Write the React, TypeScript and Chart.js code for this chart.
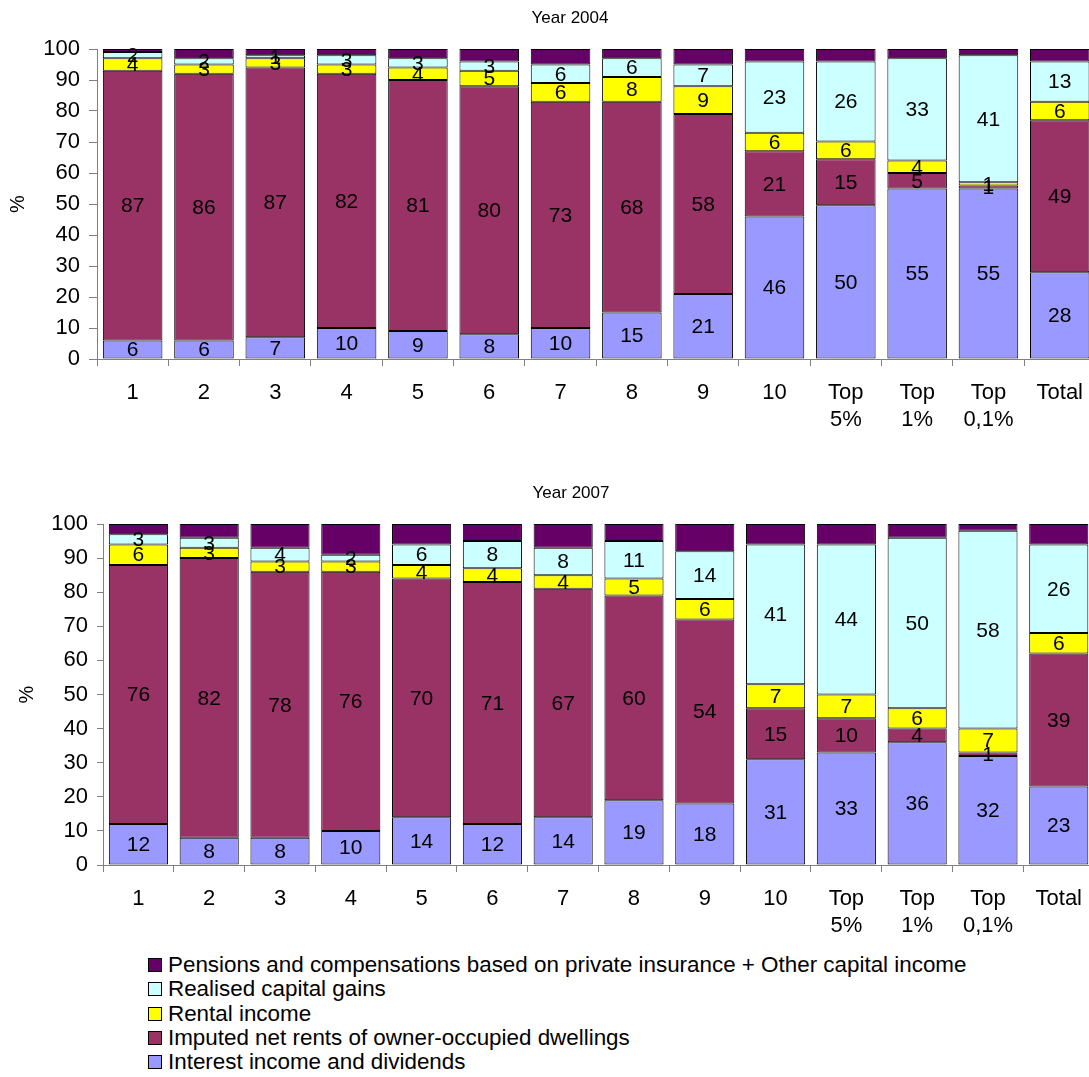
import React, { useEffect, useRef } from "react";
import { Chart, registerables } from "chart.js";

Chart.register(...registerables);

const FONT = '"Liberation Sans", Arial, Helvetica, sans-serif';

const categories: (string | string[])[] = [
  "1", "2", "3", "4", "5", "6", "7", "8", "9", "10",
  ["Top", "5%"], ["Top", "1%"], ["Top", "0,1%"], "Total",
];

const seriesNames = [
  "Interest income and dividends",
  "Imputed net rents of owner-occupied dwellings",
  "Rental income",
  "Realised capital gains",
  "Pensions and compensations based on private insurance + Other capital income",
];
const seriesColors = ["#9999FF", "#993366", "#FFFF00", "#CCFFFF", "#660066"];

// Year 2004
const interest2004 = [6, 6, 7, 10, 9, 8, 10, 15, 21, 46, 49.6, 55, 55, 28];
const imputed2004 = [87, 86, 87, 82, 81, 80, 73, 68, 58, 21, 14.8, 5, 1, 49];
const rental2004 = [4, 3, 3, 3, 4, 5, 6, 8, 9, 6, 5.8, 4, 1, 6];
const gains2004 = [2, 2, 1, 3, 3, 3, 6, 6, 7, 23, 25.8, 33, 41, 13];
const pensions2004 = [1, 3, 2, 2, 3, 4, 5, 3, 5, 4, 4, 3, 2, 4];

// Year 2007
const interest2007 = [12, 8, 8, 10, 14, 12, 14, 19, 18, 31, 33, 36, 32, 23];
const imputed2007 = [76, 82, 78, 76, 70, 71, 67, 60, 54, 15, 10, 4, 1, 39];
const rental2007 = [6, 3, 3, 3, 4, 4, 4, 5, 6, 7, 7, 6, 7, 6];
const gains2007 = [3, 3, 4, 2, 6, 8, 8, 11, 14, 41, 44, 50, 58, 26];
const pensions2007 = [3, 4, 7, 9, 6, 5, 7, 5, 8, 6, 6, 4, 2, 6];

const yTicks = [0, 10, 20, 30, 40, 50, 60, 70, 80, 90, 100];

const legendOrder = [4, 3, 2, 1, 0];

const segLabels = {
  id: "segLabels",
  afterDatasetsDraw(chart: any) {
    const ctx = chart.ctx;
    ctx.save();
    ctx.font = `21px ${FONT}`;
    ctx.fillStyle = "#000";
    ctx.textAlign = "center";
    ctx.textBaseline = "middle";
    chart.data.datasets.forEach((ds: any, i: number) => {
      if (!ds.showLabels) return;
      const meta = chart.getDatasetMeta(i);
      meta.data.forEach((el: any, j: number) => {
        const v = ds.data[j];
        const p = el.getProps(["x", "y", "base"], true);
        ctx.fillText(String(Math.round(v)), p.x, (p.y + p.base) / 2 + 1);
      });
    });
    ctx.restore();
  },
};

type Cfg = {
  title: string;
  data: number[][];
  width: number;
  height: number;
  padLeft: number;
  axisWidth: number;
  titlePadTop: number;
  titlePadBottom: number;
  pctPad: number;
  yTickLen: number;
};

function BarChart({ cfg }: { cfg: Cfg }) {
  const ref = useRef<HTMLCanvasElement>(null);
  useEffect(() => {
    if (!ref.current) return;
    const chart = new Chart(ref.current, {
      type: "bar",
      data: {
        labels: categories as any,
        datasets: cfg.data.map((d, i) => ({
          label: seriesNames[i],
          data: d,
          backgroundColor: seriesColors[i],
          borderColor: "#000",
          borderWidth: 1,
          borderSkipped: false,
          categoryPercentage: 1,
          barPercentage: 0.835,
          showLabels: i < 4,
        })) as any,
      },
      options: {
        responsive: false,
        animation: false,
        events: [],
        layout: { padding: { left: cfg.padLeft, right: 0, top: 0, bottom: 0 } },
        plugins: {
          legend: { display: false },
          tooltip: { enabled: false },
          title: {
            display: true,
            text: cfg.title,
            color: "#000",
            font: { family: FONT, size: 17, weight: "normal", lineHeight: 1.2 },
            padding: { top: cfg.titlePadTop, bottom: cfg.titlePadBottom },
          },
        },
        scales: {
          x: {
            stacked: true,
            grid: {
              offset: true,
              drawOnChartArea: false,
              tickLength: 7,
              color: "#808080",
            },
            border: { color: "#808080", width: 1 },
            ticks: {
              color: "#000",
              font: { family: FONT, size: 22, lineHeight: 1.2 },
              padding: 14,
              maxRotation: 0,
              autoSkip: false,
            },
            afterFit: (s: any) => {
              s.height = 81;
            },
          },
          y: {
            stacked: true,
            min: 0,
            max: 100,
            afterBuildTicks: (s: any) => {
              s.ticks = yTicks.map((v) => ({ value: v }));
            },
            grid: {
              drawOnChartArea: false,
              tickLength: cfg.yTickLen,
              color: "#808080",
            },
            border: { color: "#808080", width: 1 },
            ticks: {
              color: "#000",
              font: { family: FONT, size: 22 },
              padding: 9,
            },
            title: {
              display: true,
              text: "%",
              color: "#000",
              font: { family: FONT, size: 20, lineHeight: 1.2 },
              padding: { top: cfg.pctPad, bottom: 0 },
            },
            afterFit: (s: any) => {
              s.width = cfg.axisWidth;
            },
          },
        },
      } as any,
      plugins: [segLabels],
    });
    return () => chart.destroy();
  }, [cfg]);
  return (
    <canvas
      ref={ref}
      width={cfg.width}
      height={cfg.height}
      style={{ width: cfg.width, height: cfg.height, display: "block" }}
    />
  );
}

const cfg2004: Cfg = {
  title: "Year 2004",
  data: [interest2004, imputed2004, rental2004, gains2004, pensions2004],
  width: 1097,
  height: 440,
  padLeft: 43,
  axisWidth: 54,
  titlePadTop: 8,
  titlePadBottom: 20.6,
  pctPad: -37,
  yTickLen: 8,
};

const cfg2007: Cfg = {
  title: "Year 2007",
  data: [interest2007, imputed2007, rental2007, gains2007, pensions2007],
  width: 1096,
  height: 476,
  padLeft: 46,
  axisWidth: 57,
  titlePadTop: 13.6,
  titlePadBottom: 20,
  pctPad: -31,
  yTickLen: 6,
};

export default function App() {
  return (
    <div
      style={{
        position: "absolute",
        left: 0,
        top: 0,
        width: 1089,
        height: 1077,
        overflow: "hidden",
        background: "#fff",
      }}
    >
      <div style={{ position: "absolute", left: 0, top: 0 }}>
        <BarChart cfg={cfg2004} />
      </div>
      <div style={{ position: "absolute", left: 0, top: 470 }}>
        <BarChart cfg={cfg2007} />
      </div>
      <div
        style={{
          position: "absolute",
          left: 148,
          top: 953,
          fontFamily: FONT,
          fontSize: 22.4,
          color: "#000",
        }}
      >
        {legendOrder.map((i) => (
          <div
            key={i}
            style={{ display: "flex", alignItems: "center", height: 24.3, whiteSpace: "nowrap" }}
          >
            <span
              style={{
                display: "inline-block",
                width: 12,
                height: 12,
                background: seriesColors[i],
                border: "1px solid #000",
                marginRight: 6,
                flex: "0 0 auto",
              }}
            />
            <span style={{ lineHeight: "24px" }}>{seriesNames[i]}</span>
          </div>
        ))}
      </div>
    </div>
  );
}
